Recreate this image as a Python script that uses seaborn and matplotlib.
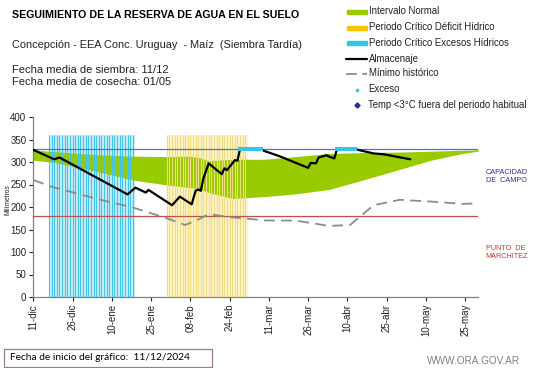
import numpy as np
import pandas as pd
import matplotlib
matplotlib.use("Agg")
import matplotlib.pyplot as plt
from matplotlib.patches import Rectangle
from matplotlib.lines import Line2D
import seaborn as sns

# ---------------- data ----------------
start_date = "2024-12-11"

band_days = [0, 8, 25, 38, 51, 60, 64, 67, 76, 88, 100, 113, 126, 139, 152, 164, 170]
band_upper = [327, 323, 316, 313, 312, 313, 309, 303, 306, 306, 312, 319, 321, 322, 324, 326, 327]
band_lower = [304, 299, 278, 260, 249, 243, 239, 232, 219, 223, 229, 239, 260, 282, 304, 319, 324]

alm_days = [0, 8, 10, 36, 39, 43, 44, 53, 56, 60.5, 62, 63, 64, 65, 67, 72, 73, 74, 77, 78,
            79, 82, 84, 85, 87, 88, 94, 105, 106, 108, 109, 112, 113, 115, 116, 117, 123, 124,
            130, 134, 144]
alm_values = [327, 306, 310, 228, 243, 232, 238, 204, 223, 206, 236, 239, 236, 264, 297, 273, 286,
              282, 304, 303, 330, 330, 327, 330, 330, 325, 313, 287, 298, 297, 310, 315, 312, 308,
              328, 330, 330, 327, 319, 317, 306]

min_days = [0, 7, 25, 38, 51, 58, 63, 67, 76, 89, 100, 113, 121, 130, 140, 152, 164, 170]
min_values = [260, 245, 217, 199, 175, 160, 172, 184, 177, 170, 170, 158, 160, 204, 216, 212, 207, 208]

exceso_days = list(range(79, 88)) + list(range(116, 124))
exceso_values = [330] * len(exceso_days)

excess_period_days = list(range(6, 39))
deficit_period_days = list(range(51, 82))
period_top = 360

capacidad_campo = 330
punto_marchitez = 180

tick_labels = ["11-dic", "26-dic", "10-ene", "25-ene", "09-feb", "24-feb", "11-mar",
               "26-mar", "10-abr", "25-abr", "10-may", "25-may"]

# ---------------- helpers ----------------
t0 = pd.Timestamp(start_date)
def to_dates(days):
    return [t0 + pd.Timedelta(days=float(d)) for d in days]

band_df = pd.DataFrame({"fecha": to_dates(band_days), "sup": band_upper, "inf": band_lower})
alm_df = pd.DataFrame({"fecha": to_dates(alm_days), "mm": alm_values})
min_df = pd.DataFrame({"fecha": to_dates(min_days), "mm": min_values})
exc_df = pd.DataFrame({"fecha": to_dates(exceso_days), "mm": exceso_values})

sns.set_theme(style="white")
plt.rcParams["font.family"] = ["Liberation Sans", "DejaVu Sans"]

W, H = 541, 368
fig = plt.figure(figsize=(W / 100, H / 100), dpi=100)
fig.patch.set_facecolor("white")

ax = fig.add_axes([33.3 / W, (H - 297) / H, (478.3 - 33.3) / W, 180 / H])

# critical period stripes
exc_dates = to_dates(excess_period_days)
def_dates = to_dates(deficit_period_days)
ax.bar(exc_dates, [period_top] * len(exc_dates), width=1.0, align="edge",
       color="#c9eef8", edgecolor="none", zorder=1)
ax.bar(def_dates, [period_top] * len(def_dates), width=1.0, align="edge",
       color="#fdf4c8", edgecolor="none", zorder=1)

# normal interval band
ax.fill_between(band_df["fecha"], band_df["inf"], band_df["sup"], color="#99cc00",
                linewidth=0, zorder=2)

ax.vlines(exc_dates, 0, period_top, color="#45c3e6", linewidth=0.8, zorder=3)
ax.vlines(def_dates, 0, period_top, color="#f0dc80", linewidth=0.8, zorder=3)

# reference lines
ax.axhline(capacidad_campo, color="#4f74c8", linewidth=0.9, zorder=4)
ax.axhline(punto_marchitez, color="#c0504d", linewidth=0.9, zorder=4)

# historical minimum
sns.lineplot(data=min_df, x="fecha", y="mm", ax=ax, color="#8c8c8c", linewidth=1.3,
             zorder=5, estimator=None, sort=False)
ax.lines[-1].set_dashes([6, 3.5])

# storage
sns.lineplot(data=alm_df, x="fecha", y="mm", ax=ax, color="black", linewidth=1.6,
             zorder=6, estimator=None, sort=False)

# excess dots
sns.scatterplot(data=exc_df, x="fecha", y="mm", ax=ax, color="#33c6ea", marker="s",
                s=9, linewidth=0, zorder=7)

ax.set_xlim(t0, t0 + pd.Timedelta(days=170))
ax.set_ylim(0, 400)
ax.set_yticks(np.arange(0, 401, 50))
ticks = [t0 + pd.Timedelta(days=15 * i) for i in range(len(tick_labels))]
ax.set_xticks(ticks)
ax.set_xticklabels(tick_labels, rotation=90, fontsize=7, color="#222222")
ax.tick_params(axis="y", labelsize=7, colors="#222222", length=3, width=0.8, pad=2)
ax.tick_params(axis="x", length=3, width=0.8, pad=2)
ax.tick_params(axis="both", direction="out", left=True, bottom=True)
for s in ["top", "right"]:
    ax.spines[s].set_visible(False)
for s in ["left", "bottom"]:
    ax.spines[s].set_color("#808080")
    ax.spines[s].set_linewidth(0.9)
ax.set_xlabel("")
ax.set_ylabel("")
ax.grid(False)
ax.set_facecolor("none")

# ---------------- overlay texts ----------------
ov = fig.add_axes([0, 0, 1, 1], zorder=10)
ov.set_xlim(0, W)
ov.set_ylim(H, 0)
ov.axis("off")
ov.patch.set_alpha(0)

ov.text(7.5, 200, "Milímetros", fontsize=4.8, rotation=90, va="center", ha="center",
        color="#222222")

ov.text(12, 15, "SEGUIMIENTO DE LA RESERVA DE AGUA EN EL SUELO", fontsize=7.7,
        fontweight="bold", va="center", ha="left", color="black")
ov.text(12, 45, "Concepción - EEA Conc. Uruguay  - Maíz  (Siembra Tardía)", fontsize=7.9,
        va="center", ha="left", color="#222222")
ov.text(12, 70, "Fecha media de siembra: 11/12", fontsize=8.0, va="center", ha="left",
        color="#222222")
ov.text(12, 82, "Fecha media de cosecha: 01/05", fontsize=8.0, va="center", ha="left",
        color="#222222")

# legend
lx0, lx1, tx = 347, 367, 369
leg_fs = 6.9
rows = [11.5, 27.5, 43, 59, 73.5, 89.5, 104.5]
ov.add_patch(Rectangle((lx0, rows[0] - 2), lx1 - lx0, 4, color="#99cc00"))
ov.add_patch(Rectangle((lx0, rows[1] - 2), lx1 - lx0, 4, color="#ffc000"))
ov.add_patch(Rectangle((lx0, rows[2] - 2), lx1 - lx0, 4, color="#33c6ea"))
ov.add_line(Line2D([lx0 - 1, lx1], [rows[3], rows[3]], color="black", linewidth=1.6))
ov.add_line(Line2D([lx0 - 1, lx1], [rows[4], rows[4]], color="#8c8c8c", linewidth=1.3,
                   dashes=[6, 3]))
ov.plot([356.5], [rows[5]], marker="s", markersize=2, color="#33c6ea", linestyle="none")
ov.plot([356.5], [rows[6]], marker="D", markersize=2.6, color="#1f2f9f", linestyle="none")
labels = ["Intervalo Normal", "Periodo Crítico Déficit Hídrico", "Periodo Crítico Excesos Hídricos",
          "Almacenaje", "Mínimo histórico", "Exceso", "Temp <3°C fuera del periodo habitual"]
for i, (r, lab) in enumerate(zip(rows, labels)):
    x = tx if i < 5 else 368
    ov.text(x, r, lab, fontsize=leg_fs, va="center", ha="left", color="#222222")

# right labels
ov.text(485.5, 176, "CAPACIDAD\nDE  CAMPO", fontsize=5.2, va="center", ha="left",
        color="#2e2e9a", linespacing=1.2)
ov.text(485.5, 253, "PUNTO  DE\nMARCHITEZ", fontsize=5.2, va="center", ha="left",
        color="#c0392b", linespacing=1.2)

# footer
ov.add_patch(Rectangle((4, 349), 208, 18, facecolor="white", edgecolor="#9a8080",
                       linewidth=0.9))
ov.text(10, 358, "Fecha de inicio del gráfico:  11/12/2024", fontsize=7.3, va="center",
        ha="left", color="black", family=["Lato", "Liberation Sans", "DejaVu Sans"])
ov.text(427, 361, "WWW.ORA.GOV.AR", fontsize=7.2, va="center", ha="left", color="#808080")

fig.savefig("out.png", dpi=100, facecolor="white")
